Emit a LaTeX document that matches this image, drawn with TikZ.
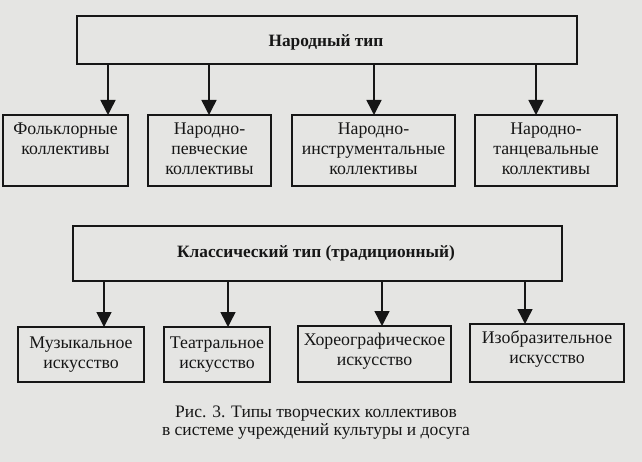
\documentclass[tikz,border=0pt]{standalone}
\usepackage{fontspec}
\setmainfont{Liberation Serif}
\usetikzlibrary{arrows.meta}
\definecolor{bgc}{RGB}{229,229,227}
\definecolor{ink}{RGB}{22,22,22}
\newcommand{\ml}[1]{\begin{tabular}[t]{@{}c@{}}#1\end{tabular}}
\begin{document}
\begin{tikzpicture}[x=1pt,y=-1pt,
  box/.style={draw=ink, line width=1.6pt, rectangle, inner sep=0pt, outer sep=0pt},
  lbl/.style={inner sep=0pt, outer sep=0pt, anchor=base, text=ink, font=\fontsize{17.8}{20}\selectfont},
  head/.style={lbl, font=\fontsize{17.3}{20}\selectfont\bfseries},
  captxt/.style={lbl, font=\fontsize{17.5}{18}\selectfont},
  arr/.style={draw=ink, line width=1.5pt, -{Triangle[width=15pt,length=15pt]}}]
\fill[bgc] (0,0) rectangle (642,462);
\useasboundingbox (0,0) rectangle (642,462);
% top level
\node[box, minimum width=500, minimum height=48] (top) at (327,40) {};
\node[head] (ttop) at (326,47) {Народный тип};
% level 2
\node[box, minimum width=125, minimum height=71] (b1) at (65.5,150.5) {};
\node[box, minimum width=123, minimum height=71] (b2) at (209.5,150.5) {};
\node[box, minimum width=163, minimum height=71] (b3) at (373.5,150.5) {};
\node[box, minimum width=142, minimum height=71] (b4) at (546,150.5) {};
\node[lbl] (tb1) at (65.5,135) {\ml{Фольклорные\\коллективы}};
\node[lbl] (tb2) at (209.5,135) {\ml{Народно-\\певческие\\коллективы}};
\node[lbl] (tb3) at (373.5,135) {\ml{Народно-\\инструментальные\\коллективы}};
\node[lbl] (tb4) at (546,135) {\ml{Народно-\\танцевальные\\коллективы}};
% classic
\node[box, minimum width=489, minimum height=55] (cl) at (317.5,253.5) {};
\node[head] (tcl) at (316,258) {Классический тип (традиционный)};
% level 3
\node[box, minimum width=126, minimum height=55] (c1) at (81,354.5) {};
\node[box, minimum width=106, minimum height=55] (c2) at (217,354.5) {};
\node[box, minimum width=153, minimum height=56] (c3) at (374.5,354) {};
\node[box, minimum width=154, minimum height=58] (c4) at (547,353) {};
\node[lbl] (tc1) at (81,348) {\ml{Музыкальное\\искусство}};
\node[lbl] (tc2) at (217,348) {\ml{Театральное\\искусство}};
\node[lbl] (tc3) at (374.5,345) {\ml{Хореографическое\\искусство}};
\node[lbl] (tc4) at (547,343) {\ml{Изобразительное\\искусство}};
% caption
\node[captxt] (capt) at (316,417) {\ml{Рис. 3. Типы творческих коллективов\\в системе учреждений культуры и досуга}};
% arrow columns
\path (108,0) coordinate (xa1) (209,0) coordinate (xa2) (374,0) coordinate (xa3) (536,0) coordinate (xa4);
\path (104,0) coordinate (xc1) (228,0) coordinate (xc2) (382,0) coordinate (xc3) (525,0) coordinate (xc4);
\draw[arr] (xa1 |- top.south) -- (xa1 |- b1.north);
\draw[arr] (xa2 |- top.south) -- (xa2 |- b2.north);
\draw[arr] (xa3 |- top.south) -- (xa3 |- b3.north);
\draw[arr] (xa4 |- top.south) -- (xa4 |- b4.north);
\draw[arr] (xc1 |- cl.south) -- (xc1 |- c1.north);
\draw[arr] (xc2 |- cl.south) -- (xc2 |- c2.north);
\draw[arr] (xc3 |- cl.south) -- (xc3 |- c3.north);
\draw[arr] (xc4 |- cl.south) -- (xc4 |- c4.north);
\end{tikzpicture}
\end{document}
